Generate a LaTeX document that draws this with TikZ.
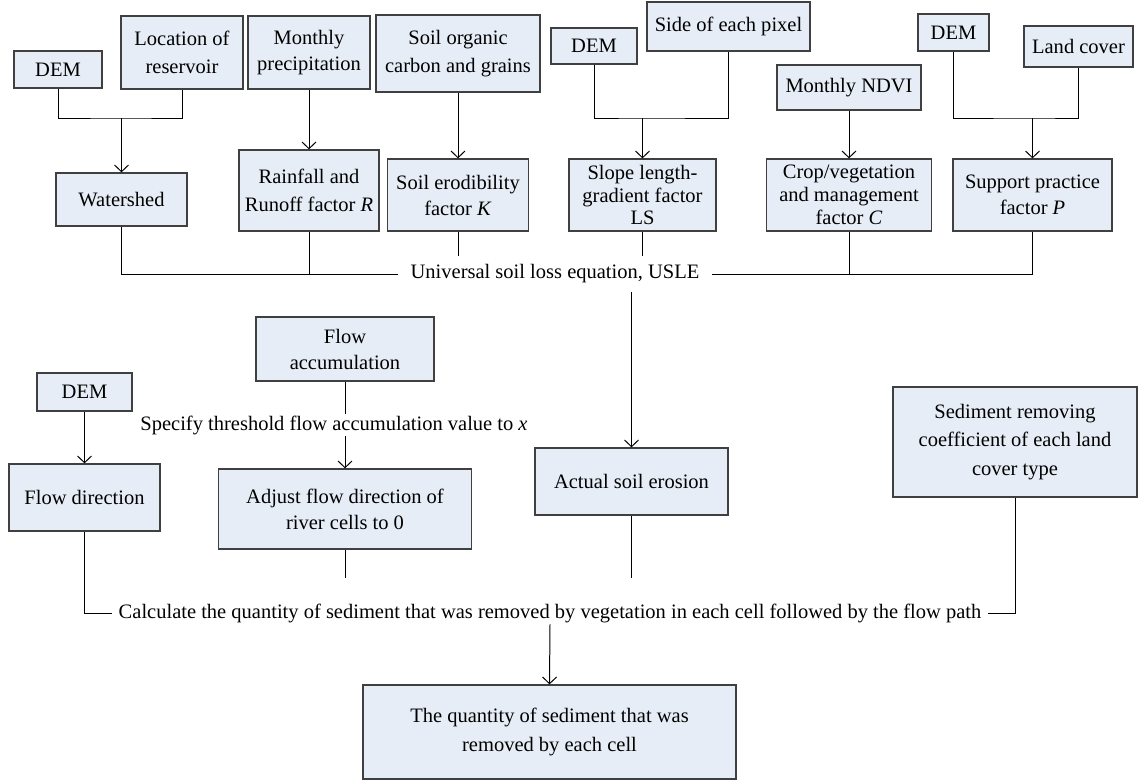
\documentclass[tikz,border=0pt]{standalone}
\usepackage{fontspec}
\setmainfont{Liberation Serif}
\usetikzlibrary{arrows.meta}
\definecolor{boxfill}{RGB}{230,237,246}
\begin{document}
\begin{tikzpicture}[x=0.03cm,y=-0.03cm,font=\fontsize{17.5}{22.2}\selectfont,
  box/.style={draw=black!75,fill=boxfill,line width=1.1pt,align=center,inner sep=1pt},
  tight/.style={font=\fontsize{17.5}{19.6}\selectfont},
  loose/.style={font=\fontsize{17.5}{24.5}\selectfont},
  link/.style={line width=0.85pt},
  arr/.style={link,-{Straight Barb[length=0.2cm,width=0.42cm]}}]
\useasboundingbox (0,0) rectangle (1141,782);
% inputs
\node[box,minimum width=2.64cm,minimum height=1.11cm] (dem1) at (58,69.5) {DEM};
\node[box,loose,minimum width=3.66cm,minimum height=2.19cm] (res) at (182,52.5) {Location of\\reservoir};
\node[box,minimum width=3.66cm,minimum height=2.19cm] (prec) at (309,52.5) {Monthly\\precipitation};
\node[box,loose,minimum width=4.92cm,minimum height=2.31cm] (soc) at (458,53.5) {Soil organic\\carbon and grains};
\node[box,minimum width=2.58cm,minimum height=1.08cm] (dem2) at (594,46) {DEM};
\node[box,minimum width=4.89cm,minimum height=1.47cm] (pix) at (728.5,26.5) {Side of each pixel};
\node[box,minimum width=4.32cm,minimum height=1.35cm] (ndvi) at (849,87.5) {Monthly NDVI};
\node[box,minimum width=2.13cm,minimum height=1.11cm] (dem3) at (953.5,32.5) {DEM};
\node[box,minimum width=3.27cm,minimum height=1.23cm] (lc) at (1078.5,46.5) {Land cover};
% USLE factors
\node[box,minimum width=3.93cm,minimum height=1.59cm] (shed) at (121.5,199.5) {Watershed};
\node[box,loose,minimum width=4.2cm,minimum height=2.43cm] (rain) at (309,190.5) {Rainfall and\\Runoff factor \textit{R}};
\node[box,minimum width=4.23cm,minimum height=2.16cm] (erod) at (458,195) {Soil erodibility\\factor \textit{K}};
\node[box,tight,minimum width=4.41cm,minimum height=2.16cm] (ls) at (642.5,195) {Slope length-\\gradient factor\\LS};
\node[box,tight,minimum width=4.95cm,minimum height=2.16cm] (crop) at (849,195) {Crop/vegetation\\and management\\factor \textit{C}};
\node[box,minimum width=4.77cm,minimum height=2.16cm] (supp) at (1032.5,195) {Support practice\\factor \textit{P}};
\node[inner xsep=0.37cm,inner ysep=0.24cm] (usle) at (555,274) {Universal soil loss equation, USLE};
\coordinate (j1) at (shed.north |- 0,118);
\coordinate (j2) at (ls.north |- 0,118);
\coordinate (j3) at (supp.north |- 0,118);
% sediment part
\node[box,minimum width=2.85cm,minimum height=1.14cm] (dem4) at (84.5,392) {DEM};
\node[box,minimum width=5.34cm,minimum height=1.92cm] (facc) at (345,349) {Flow\\accumulation};
\node[inner sep=1.5pt] (thr) at (334,425) {Specify threshold flow accumulation value to \textit{x}};
\node[box,minimum width=4.53cm,minimum height=2.01cm] (fdir) at (84.5,497.5) {Flow direction};
\node[box,minimum width=7.59cm,minimum height=2.4cm] (adj) at (345,509) {Adjust flow direction of\\river cells to 0};
\node[box,minimum width=5.79cm,minimum height=2.01cm] (act) at (631.5,481.5) {Actual soil erosion};
\node[box,loose,minimum width=7.32cm,minimum height=3.3cm] (sed) at (1015,442) {Sediment removing\\coefficient of each land\\cover type};
\node[inner xsep=0.2cm,inner ysep=1.5pt] (calc) at (550,613) {Calculate the quantity of sediment that was removed by vegetation in each cell followed by the flow path};
\node[box,loose,minimum width=11.19cm,minimum height=2.82cm] (out) at (549.5,732) {The quantity of sediment that was\\removed by each cell};
\coordinate (cut) at (0,578);
% connectors
\draw[link] (dem1.south) |- (j1) -| (res.south);
\draw[arr] (j1) -- (shed.north);
\draw[arr] (prec) -- (rain);
\draw[arr] (soc) -- (erod);
\draw[link] (dem2.south) |- (j2) -| (pix.south);
\draw[arr] (j2) -- (ls.north);
\draw[arr] (ndvi) -- (crop);
\draw[link] (dem3.south) |- (j3) -| (lc.south);
\draw[arr] (j3) -- (supp.north);
\draw[link] (shed.south) |- (usle.west);
\draw[link] (rain.south) -- (rain.south |- usle.west);
\draw[link] (erod.south) -- (erod.south |- usle.north);
\draw[link] (ls.south) -- (ls.south |- usle.north);
\draw[link] (supp.south) |- (usle.east);
\draw[link] (crop.south) -- (crop.south |- usle.east);
\draw[arr] (usle.south -| act.north) -- (act.north);
\draw[arr] (dem4) -- (fdir);
\draw[link] (facc.south) -- (facc.south |- thr.north);
\draw[arr] (facc.south |- thr.south) -- (adj.north);
\draw[link] (adj.south) -- (adj.south |- cut);
\draw[link] (act.south) -- (act.south |- cut);
\draw[link] (fdir.south) |- (calc.west);
\draw[link] (sed.south) |- (calc.east);
\draw[arr] (calc.south) -- (out.north);
\end{tikzpicture}
\end{document}
